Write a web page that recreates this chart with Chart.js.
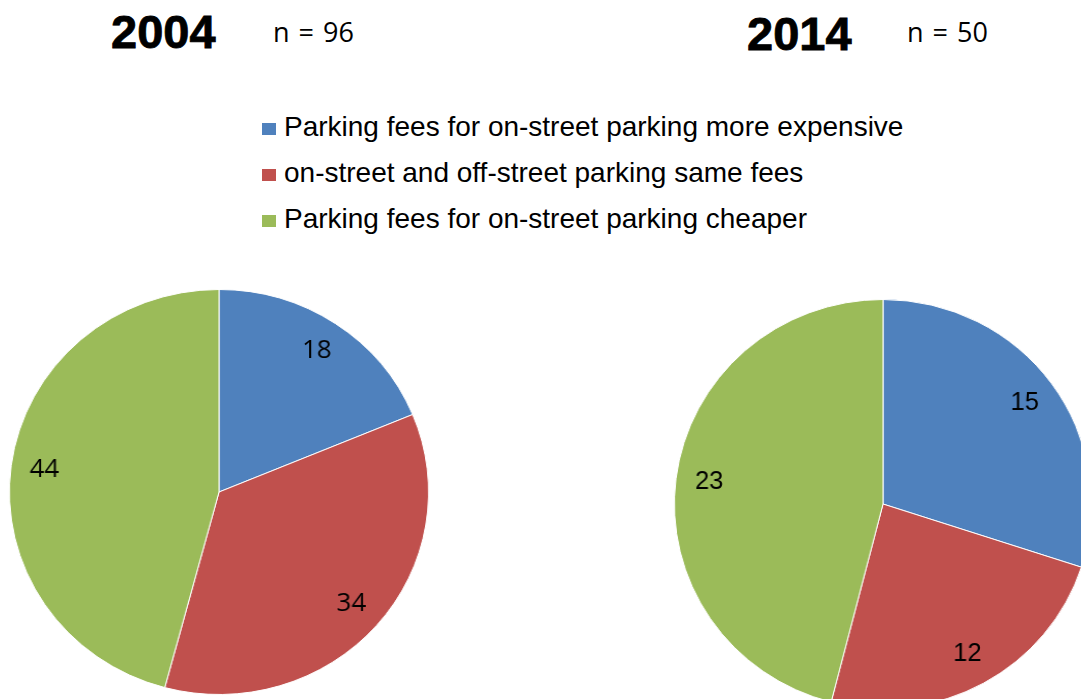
<!DOCTYPE html>
<html>
<head>
<meta charset="utf-8">
<script src="https://cdn.jsdelivr.net/npm/chart.js@4.4.1/dist/chart.umd.min.js"></script>
<style>
  html, body { margin: 0; padding: 0; background: #fff; }
  body { width: 1081px; height: 699px; overflow: hidden; position: relative; }
  .year { position: absolute; font-family: "Liberation Sans", Arial, sans-serif; font-weight: bold;
          font-size: 47px; line-height: 46px; color: #000; -webkit-text-stroke: 0.8px #000; }
  .n { position: absolute; font-family: "Open Sans", sans-serif; font-size: 27px; line-height: 26px;
       color: #000; word-spacing: 2px; }
  .leg { position: absolute; font-family: "Liberation Sans", Arial, sans-serif; font-size: 28px;
         line-height: 28px; color: #000; white-space: nowrap; }
  .box { position: absolute; width: 14px; height: 12px; }
  .pie { position: absolute; }
</style>
</head>
<body>
<div class="year" style="left:111px; top:9px;" id="y0"></div>
<div class="n" style="left:273px; top:19px;" id="n0"></div>
<div class="year" style="left:747px; top:11px;" id="y1"></div>
<div class="n" style="left:907px; top:19px;" id="n1"></div>
<div id="legend"></div>
<div class="pie" style="left:16px; top:289px; width:406px; height:406px; transform:scaleX(1.035);">
  <canvas id="pie2004"></canvas>
</div>
<div class="pie" style="left:678px; top:299px; width:410px; height:410px; transform:scaleX(1.02);">
  <canvas id="pie2014"></canvas>
</div>
<script>
var categories = [
    'Parking fees for on-street parking more expensive',
    'on-street and off-street parking same fees',
    'Parking fees for on-street parking cheaper'
];
var years = ['2004', '2014'];
var sampleSizes = [96, 50];
var counts2004 = [18, 34, 44];
var counts2014 = [15, 12, 23];
var colors = ['#4F81BD', '#C0504D', '#9BBB59'];

document.addEventListener('DOMContentLoaded', function() {
    // titles
    document.getElementById('y0').textContent = years[0];
    document.getElementById('y1').textContent = years[1];
    document.getElementById('n0').textContent = 'n = ' + sampleSizes[0];
    document.getElementById('n1').textContent = 'n = ' + sampleSizes[1];

    // legend
    var legend = document.getElementById('legend');
    categories.forEach(function(cat, i) {
        var box = document.createElement('div');
        box.className = 'box';
        box.style.left = '262px';
        box.style.top = (123 + 46 * i) + 'px';
        box.style.background = colors[i];
        legend.appendChild(box);
        var txt = document.createElement('div');
        txt.className = 'leg';
        txt.style.left = '284px';
        txt.style.top = (113 + 46 * i) + 'px';
        txt.textContent = cat;
        legend.appendChild(txt);
    });

    // value labels inside the slices
    var sliceLabels = {
        id: 'sliceLabels',
        afterDatasetsDraw: function(chart, args, opts) {
            var ctx = chart.ctx;
            var meta = chart.getDatasetMeta(0);
            var data = chart.data.datasets[0].data;
            ctx.save();
            ctx.font = opts.font;
            ctx.fillStyle = '#000';
            ctx.textAlign = 'center';
            ctx.textBaseline = 'middle';
            meta.data.forEach(function(arc, i) {
                var mid = (arc.startAngle + arc.endAngle) / 2;
                var r = arc.outerRadius * 0.84;
                ctx.fillText(String(data[i]), arc.x + Math.cos(mid) * r, arc.y + Math.sin(mid) * r);
            });
            ctx.restore();
        }
    };

    function makePie(id, values, font) {
        var ctx = document.getElementById(id).getContext('2d');
        return new Chart(ctx, {
            type: 'pie',
            data: {
                labels: categories,
                datasets: [{
                    data: values,
                    backgroundColor: colors,
                    borderColor: '#ffffff',
                    borderWidth: 1
                }]
            },
            options: {
                responsive: true,
                maintainAspectRatio: false,
                animation: false,
                layout: { padding: 0 },
                plugins: {
                    legend: { display: false },
                    tooltip: { enabled: false },
                    sliceLabels: { font: font }
                }
            },
            plugins: [sliceLabels]
        });
    }

    // 2004 chart
    var chart2004 = makePie('pie2004', counts2004, '25px "Open Sans", sans-serif');
    // 2014 chart
    var chart2014 = makePie('pie2014', counts2014, '25px "Liberation Sans", Arial, sans-serif');
});
</script>
</body>
</html>
